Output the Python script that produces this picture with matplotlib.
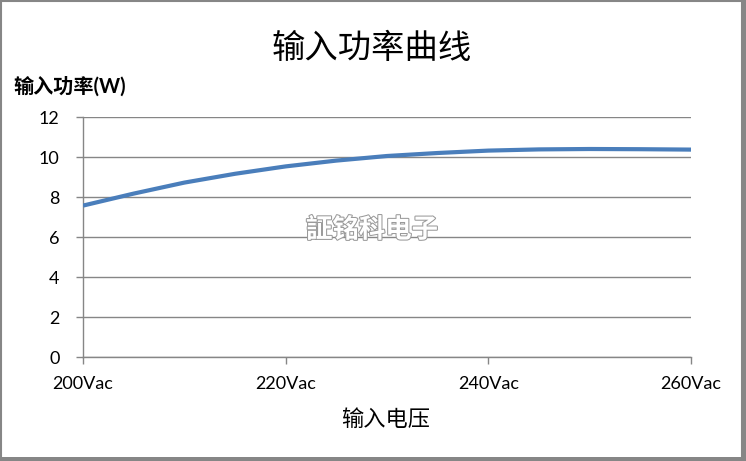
import matplotlib
matplotlib.use("Agg")
import matplotlib.pyplot as plt
import matplotlib.patheffects as pe
from matplotlib.patches import Rectangle

plt.rcParams['font.family'] = ['Lato', 'Noto Sans CJK SC', 'DejaVu Sans']

# 数据
voltage = [200, 205, 210, 215, 220, 225, 230, 235, 240, 245, 250, 255, 260]
power = [7.57, 8.17, 8.72, 9.16, 9.53, 9.82, 10.05, 10.2, 10.32, 10.38, 10.4, 10.39, 10.37]
x_ticks = [200, 220, 240, 260]
x_tick_labels = ["200Vac", "220Vac", "240Vac", "260Vac"]
y_ticks = [0, 2, 4, 6, 8, 10, 12]

grey = "#868686"

fig = plt.figure(figsize=(7.46, 4.61), dpi=100)
ax = fig.add_axes([83 / 746, 1 - 357 / 461, (691 - 83) / 746, (357 - 117) / 461])

ax.plot(voltage, power, color="#4A7EBB", lw=3, solid_capstyle="butt",
        solid_joinstyle="round", zorder=3)

ax.set_xlim(200, 260)
ax.set_ylim(0, 12)
ax.set_xticks(x_ticks)
ax.set_xticklabels(x_tick_labels, fontsize=13)
ax.set_yticks(y_ticks)
ax.set_yticklabels([str(v) for v in y_ticks], fontsize=13)
ax.tick_params(axis="both", direction="out", length=5, width=1, color=grey)
ax.tick_params(axis="x", pad=9)
ax.tick_params(axis="y", pad=12)
ax.yaxis.grid(True, color=grey, lw=1)
ax.set_axisbelow(True)
for side in ["top", "right"]:
    ax.spines[side].set_visible(False)
for side in ["left", "bottom"]:
    ax.spines[side].set_color(grey)
    ax.spines[side].set_linewidth(1)

# 标题和轴标签
fig.text(372 / 746, 1 - 48 / 461, "输入功率曲线", fontsize=24, ha="center", va="center")
fig.text(13 / 746, 1 - 87 / 461, "输入功率(W)", fontsize=14.5, fontweight="bold",
         ha="left", va="center")
fig.text(386 / 746, 1 - 420 / 461, "输入电压", fontsize=16, ha="center", va="center")

# 水印
fig.text(372 / 746, 1 - 230 / 461, "証铭科电子", fontsize=19, color="white",
         family=["Noto Sans CJK SC", "Noto Sans CJK TC"], fontweight="bold",
         ha="center", va="center",
         path_effects=[pe.withStroke(linewidth=1.5, foreground="#9a9a9a")])

# 外框
fig.patches.append(Rectangle((0.001, 0.004), 0.994, 0.993, transform=fig.transFigure,
                             fill=False, edgecolor=grey, lw=1.5))
fig.patches.append(Rectangle((0.996, 0.0), 0.004, 1.0, transform=fig.transFigure,
                             facecolor=grey, edgecolor="none"))
fig.patches.append(Rectangle((0.0, 0.0), 1.0, 0.008, transform=fig.transFigure,
                             facecolor=grey, edgecolor="none"))

fig.savefig("out.png", dpi=100)
